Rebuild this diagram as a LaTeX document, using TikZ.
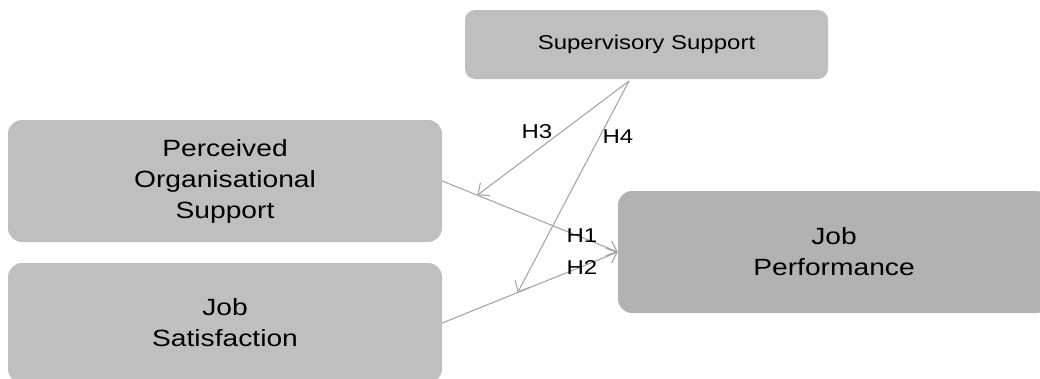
\documentclass[tikz,border=0pt]{standalone}
\usepackage{fontspec}
\setmainfont{Liberation Sans}[FakeStretch=1.2]
\usetikzlibrary{arrows.meta,calc}
\begin{document}
\begin{tikzpicture}[x=1pt,y=-1pt,
  box/.style={fill=black!25, rounded corners=14pt, inner sep=0pt, align=center,
    font=\fontsize{23.5}{31}\selectfont},
  link/.style={draw=black!35, line width=1.1pt, -{Straight Barb[length=9pt,width=16pt]}},
  hlab/.style={font=\fontsize{20}{24}\selectfont, inner sep=0pt}]
\useasboundingbox (0,0) rectangle (1040,378);
\node[box, minimum width=434pt, minimum height=122pt] (POS) at (225,181) {Perceived\\Organisational\\Support};
\node[box, minimum width=434pt, minimum height=120pt] (JS) at (225,323) {Job\\Satisfaction};
\node[box, fill=black!30, minimum width=432pt, minimum height=122pt] (JP) at (834,252) {Job\\Performance};
\node[box, rounded corners=10pt, minimum width=363pt, minimum height=69pt,
  font=\fontsize{20}{24}\selectfont] (SS) at (646.5,44.5) {Supervisory Support};
\coordinate (s) at (629,81);
\draw[link] (POS.east) -- (JP.west);
\draw[link] (JS.east) -- (JP.west);
\coordinate (m1) at ($(POS.east)!0.2!(JP.west)$);
\coordinate (m2) at ($(JS.east)!0.43!(JP.west)$);
\draw[link] (s) -- (m1);
\draw[link] (s) -- (m2);
\node[hlab] (h3) at (537,132) {H3};
\node[hlab] (h4) at (618,137) {H4};
\node[hlab] (h1) at (582,236) {H1};
\node[hlab] (h2) at (582,268) {H2};
\end{tikzpicture}
\end{document}
